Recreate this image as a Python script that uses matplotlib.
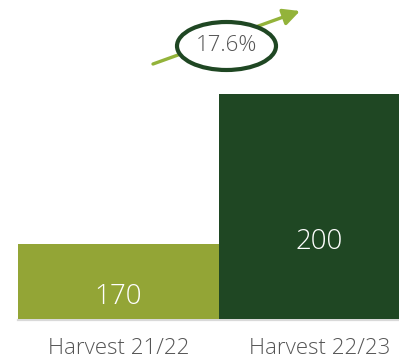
import matplotlib
matplotlib.use("Agg")
import matplotlib.pyplot as plt
from matplotlib.patches import Ellipse

categories = ["Harvest 21/22", "Harvest 22/23"]
values = [170, 200]
growth_label = "17.6%"

bar_colors = ["#93A536", "#1F4723"]
text_gray = "#555555"
plt.rcParams["font.family"] = ["Open Sans", "DejaVu Sans"]

W, H = 399, 361
fig = plt.figure(figsize=(W / 100, H / 100), dpi=100)
ax = fig.add_axes([0, 0, 1, 1])

# axis layout: 201 px per category, 5 px per unit, baseline at 155
base = 155
px_x = 201.0
px_y = 5.0
x0 = -0.5 - 18 / px_x
y_top = base + 319 / px_y
ax.set_xlim(x0, x0 + W / px_x)
ax.set_ylim(y_top - H / px_y, y_top)
ax.axis("off")


def dx(px):
    return x0 + px / px_x


def dy(py):
    return y_top - py / px_y


xs = list(range(len(categories)))
ax.bar(xs, [v - base for v in values], bottom=base, width=1.0,
       color=bar_colors, linewidth=0, zorder=2)
ax.plot([dx(18), dx(W)], [base - 0.2, base - 0.2], color="#D9D9D9", lw=1.6, zorder=1)

# value labels inside bars
label_y = [dy(297), dy(242)]
for x, v, ly in zip(xs, values, label_y):
    ax.text(x, ly, f"{v}", color="white", fontsize=20, ha="center", va="center",
            fontweight="light", zorder=3)

# category labels
for x, c in zip(xs, categories):
    ax.text(x, dy(349), c, color=text_gray, fontsize=16, ha="center", va="center",
            fontweight="light")

# growth arrow and highlighted percentage
ax.annotate("", xy=(dx(300), dy(11)), xytext=(dx(153), dy(64)),
            arrowprops=dict(arrowstyle="-|>,head_length=1.0,head_width=0.5",
                            color="#93B33A", lw=2.4, shrinkA=0, shrinkB=0), zorder=4)
ell = Ellipse((dx(226.5), dy(46)), width=99 / px_x, height=48 / px_y,
              facecolor="white", edgecolor="#1F4723", lw=3.0, zorder=5)
ax.add_patch(ell)
ax.text(dx(226.5), dy(46), growth_label, color=text_gray, fontsize=16,
        ha="center", va="center", fontweight="light", zorder=6)

fig.savefig("out.png", dpi=100)
